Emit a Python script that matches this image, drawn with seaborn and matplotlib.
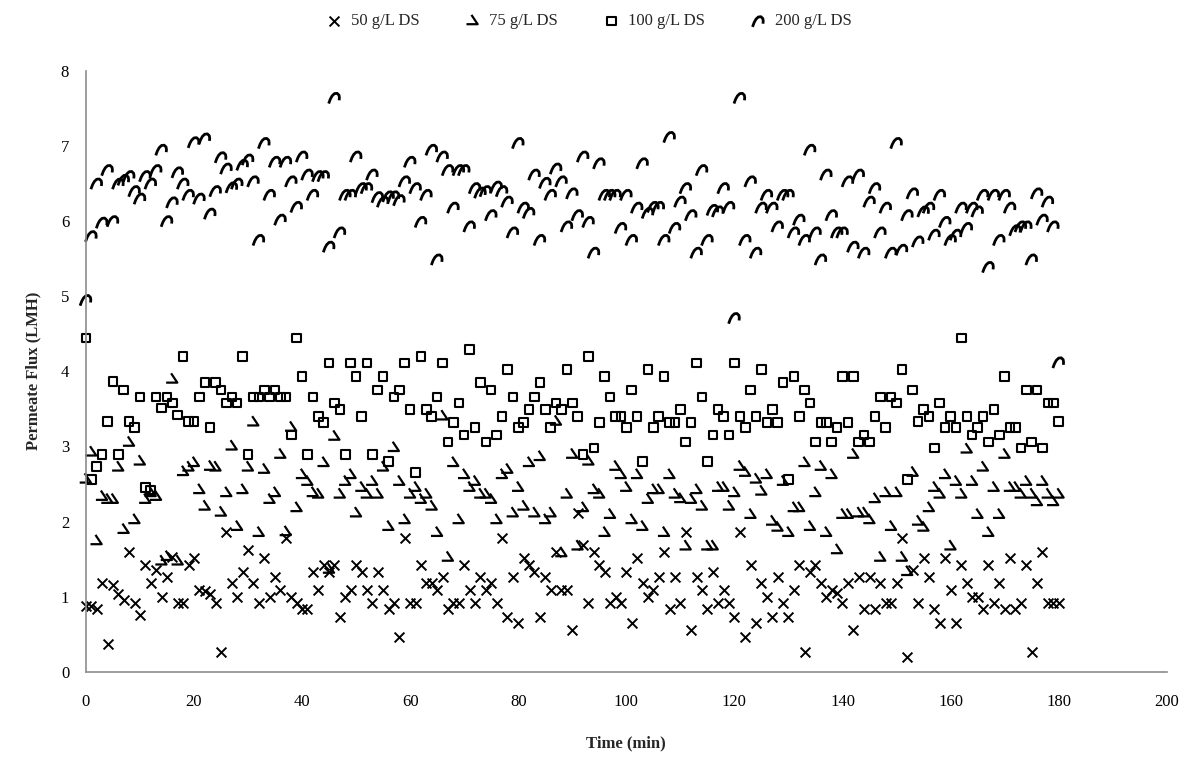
import numpy as np
import pandas as pd
import matplotlib
matplotlib.use("Agg")
import matplotlib.pyplot as plt
from matplotlib.path import Path
import seaborn as sns

time_min = list(range(0, 181))

flux_50 = [0.88, 0.88, 0.83, 1.18, 0.37, 1.16, 1.03, 0.96, 1.6, 0.92,
           0.76, 1.42, 1.18, 1.36, 1.0, 1.26, 1.53, 0.92, 0.92, 1.42,
           1.52, 1.09, 1.07, 1.03, 0.92, 0.27, 1.86, 1.18, 1.0, 1.33,
           1.62, 1.18, 0.92, 1.52, 1.0, 1.26, 1.09, 1.78, 1.0, 0.92,
           0.83, 0.83, 1.33, 1.09, 1.42, 1.33, 1.42, 0.73, 1.0, 1.09,
           1.42, 1.33, 1.09, 0.92, 1.33, 1.09, 0.83, 0.92, 0.47, 1.78,
           0.92, 0.92, 1.42, 1.18, 1.18, 1.09, 1.26, 0.83, 0.92, 0.92,
           1.42, 1.09, 0.92, 1.26, 1.09, 1.18, 0.92, 1.78, 0.73, 1.26,
           0.65, 1.52, 1.42, 1.33, 0.73, 1.26, 1.09, 1.6, 1.09, 1.09,
           0.56, 2.11, 1.69, 0.92, 1.6, 1.42, 1.33, 0.92, 1.0, 0.92,
           1.33, 0.65, 1.52, 1.18, 1.0, 1.09, 1.26, 1.6, 0.83, 1.26,
           0.92, 1.86, 0.56, 1.26, 1.09, 0.83, 1.33, 0.92, 1.09, 0.92,
           0.73, 1.86, 0.47, 1.42, 0.65, 1.18, 1.0, 0.73, 1.26, 0.92,
           0.73, 1.09, 1.42, 0.27, 1.33, 1.42, 1.18, 1.0, 1.09, 1.05,
           0.92, 1.18, 0.56, 1.26, 0.83, 1.26, 0.83, 1.18, 0.92, 0.92,
           1.18, 1.78, 0.2, 1.36, 0.92, 1.52, 1.26, 0.83, 0.65, 1.52,
           1.09, 0.65, 1.42, 1.18, 1.0, 1.0, 0.83, 1.42, 0.92, 1.18,
           0.83, 1.52, 0.83, 0.92, 1.42, 0.27, 1.18, 1.6, 0.92, 0.92,
           0.92]

flux_75 = [2.56, 2.92, 1.74, 2.33, 2.29, 2.29, 2.72, 1.89, 3.05, 2.02,
           2.8, 2.29, 2.38, 2.33, 1.47, 1.53, 3.89, 1.47, 2.66, 2.72,
           2.78, 2.42, 2.2, 2.73, 2.72, 2.12, 2.38, 3.0, 1.93, 2.42,
           2.72, 3.32, 1.85, 2.69, 2.29, 2.38, 2.89, 1.86, 3.25, 2.18,
           2.62, 2.53, 2.38, 2.36, 2.78, 1.36, 3.13, 2.36, 2.53, 2.62,
           2.11, 2.45, 2.36, 2.53, 2.36, 2.72, 1.93, 2.98, 2.53, 2.02,
           2.36, 2.45, 2.29, 2.36, 2.2, 1.85, 3.4, 1.52, 2.78, 2.02,
           2.62, 2.45, 2.53, 2.36, 2.36, 2.29, 2.02, 2.62, 2.69, 2.11,
           2.45, 2.2, 2.78, 2.11, 2.86, 2.02, 2.11, 3.33, 1.58, 2.36,
           2.89, 1.67, 2.18, 2.8, 2.42, 2.36, 1.85, 2.09, 2.73, 2.62,
           2.45, 2.02, 2.62, 1.93, 2.29, 2.42, 2.42, 1.85, 2.62, 2.36,
           2.3, 1.67, 2.29, 2.42, 2.2, 1.67, 1.67, 2.45, 2.45, 2.2,
           2.38, 2.73, 2.65, 2.09, 2.56, 2.4, 2.62, 2.0, 1.92, 2.53,
           1.85, 2.18, 2.18, 2.78, 1.93, 2.38, 2.73, 1.85, 2.62, 1.62,
           2.09, 2.09, 2.89, 2.11, 2.11, 2.02, 2.3, 1.52, 2.38, 1.93,
           2.38, 1.52, 1.33, 2.65, 2.0, 1.92, 2.18, 2.45, 2.36, 2.62,
           1.67, 2.53, 2.36, 2.96, 2.53, 2.09, 2.72, 1.85, 2.45, 2.09,
           2.89, 2.45, 2.45, 2.36, 2.53, 2.36, 2.26, 2.53, 2.36, 2.26,
           2.36]

flux_100 = [4.44, 2.56, 2.73, 2.89, 3.33, 3.86, 2.89, 3.75, 3.33, 3.25,
            3.66, 2.45, 2.42, 3.66, 3.51, 3.66, 3.58, 3.42, 4.2, 3.33,
            3.33, 3.66, 3.85, 3.25, 3.85, 3.75, 3.58, 3.66, 3.58, 4.2,
            2.89, 3.66, 3.66, 3.75, 3.66, 3.75, 3.66, 3.66, 3.15, 4.44,
            3.93, 2.89, 3.66, 3.4, 3.32, 4.11, 3.58, 3.49, 2.89, 4.11,
            3.93, 3.4, 4.11, 2.89, 3.75, 3.93, 2.8, 3.66, 3.75, 4.11,
            3.49, 2.65, 4.2, 3.49, 3.4, 3.66, 4.11, 3.06, 3.32, 3.58,
            3.15, 4.29, 3.25, 3.85, 3.06, 3.75, 3.15, 3.4, 4.02, 3.66,
            3.25, 3.32, 3.49, 3.66, 3.85, 3.49, 3.25, 3.58, 3.49, 4.02,
            3.58, 3.4, 2.89, 4.2, 2.98, 3.32, 3.93, 3.66, 3.4, 3.4,
            3.25, 3.75, 3.4, 2.8, 4.02, 3.25, 3.4, 3.93, 3.32, 3.32,
            3.49, 3.06, 3.32, 4.11, 3.66, 2.8, 3.15, 3.49, 3.4, 3.15,
            4.11, 3.4, 3.25, 3.75, 3.4, 4.02, 3.32, 3.49, 3.32, 3.85,
            2.56, 3.93, 3.4, 3.75, 3.58, 3.06, 3.32, 3.32, 3.06, 3.25,
            3.93, 3.32, 3.93, 3.06, 3.15, 3.06, 3.4, 3.66, 3.25, 3.66,
            3.58, 4.02, 2.56, 3.75, 3.33, 3.49, 3.4, 2.98, 3.58, 3.25,
            3.4, 3.25, 4.44, 3.4, 3.15, 3.25, 3.4, 3.06, 3.49, 3.15,
            3.93, 3.25, 3.25, 2.98, 3.75, 3.06, 3.75, 2.98, 3.58, 3.58,
            3.33]

flux_200 = [4.95, 5.8, 6.5, 5.98, 6.68, 6.0, 6.5, 6.55, 6.6, 6.4,
            6.3, 6.6, 6.5, 6.68, 6.95, 6.0, 6.25, 6.65, 6.5, 6.35,
            7.05, 6.3, 7.1, 6.1, 6.4, 6.85, 6.7, 6.45, 6.5, 6.75,
            6.82, 6.53, 5.75, 7.04, 6.35, 6.79, 6.02, 6.79, 6.53, 6.19,
            6.86, 6.62, 6.35, 6.6, 6.6, 5.66, 7.64, 5.85, 6.35, 6.35,
            6.86, 6.44, 6.44, 6.62, 6.32, 6.26, 6.33, 6.33, 6.28, 6.53,
            6.79, 6.44, 5.99, 6.35, 6.95, 5.49, 6.86, 6.68, 6.18, 6.68,
            6.68, 5.93, 6.44, 6.38, 6.4, 6.08, 6.46, 6.4, 6.26, 5.85,
            7.04, 6.18, 6.11, 6.62, 5.75, 6.51, 6.35, 6.7, 6.53, 5.93,
            6.37, 6.08, 6.86, 5.99, 5.58, 6.77, 6.35, 6.35, 6.35, 5.91,
            6.35, 5.75, 6.18, 6.77, 6.11, 6.19, 6.19, 5.75, 7.12, 5.91,
            6.26, 6.44, 6.08, 5.58, 6.68, 5.75, 6.15, 6.13, 6.44, 6.19,
            4.71, 7.64, 5.75, 6.53, 5.58, 6.18, 6.35, 6.18, 5.93, 6.35,
            6.35, 5.85, 6.02, 5.75, 6.95, 5.85, 5.49, 6.62, 6.08, 5.85,
            5.85, 6.53, 5.66, 6.62, 5.58, 6.26, 6.44, 5.85, 6.18, 5.58,
            7.04, 5.62, 6.08, 6.37, 5.73, 6.13, 6.18, 5.82, 6.35, 5.99,
            5.75, 5.82, 6.18, 5.91, 6.18, 6.13, 6.35, 5.39, 6.35, 5.75,
            6.35, 6.18, 5.88, 5.93, 5.93, 5.49, 6.37, 6.02, 6.26, 5.93,
            4.12]

series_labels = ["50 g/L DS", "75 g/L DS", "100 g/L DS", "200 g/L DS"]
x_ticks = [0, 20, 40, 60, 80, 100, 120, 140, 160, 180, 200]
y_ticks = [0, 1, 2, 3, 4, 5, 6, 7, 8]

sns.set_theme(style="white")
plt.rcParams['font.family'] = ['Liberation Serif', 'DejaVu Serif']

# custom open-path markers
hook_marker = Path([(-0.1, 0.5), (0.4, -0.25), (-0.5, -0.25)],
                   [Path.MOVETO, Path.LINETO, Path.LINETO])
arch_marker = Path([(-0.45, -0.45), (-0.32, -0.1), (-0.18, 0.15), (0.0, 0.32),
                    (0.2, 0.34), (0.35, 0.2), (0.38, 0.0), (0.36, -0.2)],
                   [Path.MOVETO] + [Path.LINETO] * 7)

fig = plt.figure(figsize=(11.93, 7.6), dpi=100)
ax = fig.add_axes([0.072, 0.116, 0.906, 0.791])

data_list = [flux_50, flux_75, flux_100, flux_200]
for lab, vals in zip(series_labels, data_list):
    df = pd.DataFrame({"Time (min)": time_min, "Flux": vals})
    if lab.startswith("50 "):
        sns.scatterplot(data=df, x="Time (min)", y="Flux", ax=ax, marker="x",
                        color="black", s=50, linewidth=1.4, label=lab, clip_on=False)
    elif lab.startswith("75 "):
        sns.scatterplot(data=df, x="Time (min)", y="Flux", ax=ax, marker=hook_marker,
                        color="black", facecolor="none", edgecolor="black",
                        s=80, linewidth=1.6, label=lab, clip_on=False)
    elif lab.startswith("100 "):
        sns.scatterplot(data=df, x="Time (min)", y="Flux", ax=ax, marker="s",
                        color="black", facecolor="none", edgecolor="black",
                        s=38, linewidth=1.5, label=lab, clip_on=False)
    else:
        sns.scatterplot(data=df, x="Time (min)", y="Flux", ax=ax, marker=arch_marker,
                        color="black", facecolor="none", edgecolor="black",
                        s=70, linewidth=2.0, label=lab, clip_on=False)

ax.set_xlim(0, 200)
ax.set_ylim(0, 8)
ax.set_xticks(x_ticks)
ax.set_yticks(y_ticks)
ax.tick_params(axis="x", labelsize=12, colors="black", length=0, pad=16)
ax.tick_params(axis="y", labelsize=12, colors="black", length=0, pad=12)
for side in ["top", "right"]:
    ax.spines[side].set_visible(False)
for side in ["left", "bottom"]:
    ax.spines[side].set_color("#8c8c8c")
    ax.spines[side].set_linewidth(1.2)
ax.grid(False)

ax.set_xlabel("Time (min)", fontsize=12, fontweight="bold", labelpad=18)
ax.set_ylabel("Permeate Flux (LMH)", fontsize=12, fontweight="bold", labelpad=14)

handles, labels = ax.get_legend_handles_labels()
if ax.legend_ is not None:
    ax.legend_.remove()
fig.legend(handles, labels, loc="upper center", bbox_to_anchor=(0.49, 1.002),
           ncol=4, frameon=False, fontsize=12, handletextpad=0.0,
           columnspacing=2.2, markerscale=1.0)

fig.savefig("out.png", dpi=100)
